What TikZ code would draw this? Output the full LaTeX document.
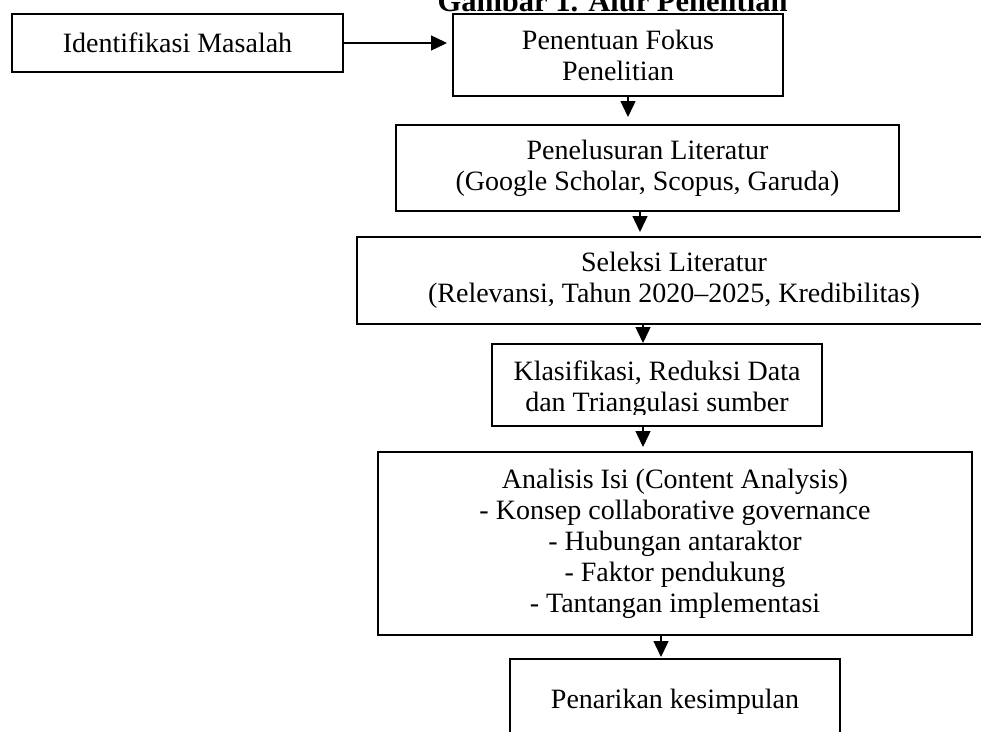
\documentclass[tikz,border=0pt]{standalone}
\usepackage{fontspec}
\setmainfont{Liberation Serif}
\usetikzlibrary{arrows.meta}
\begin{document}
\begin{tikzpicture}[x=1pt,y=-1pt,
  box/.style={draw=black, line width=2.2pt, inner sep=0pt, outer sep=0pt, align=center,
    font=\fontsize{28}{31}\selectfont},
  arr/.style={line width=1.4pt, -{Triangle[length=16pt,width=15pt]}},
  ttl/.style={font=\fontsize{30.5}{31}\selectfont\bfseries, anchor=base, inner sep=0pt}
]
\useasboundingbox[fill=white] (0,0) rectangle (981,731);
\node[ttl] (title) at (612.5,11) {Gambar 1. Alur Penelitian};
\node[box, minimum width=331pt, minimum height=58pt] (im) at (177.5,43) {Identifikasi Masalah};
\node[box, minimum width=330pt, minimum height=82pt] (pf) at (618,55) {Penentuan Fokus\\Penelitian};
\node[box, minimum width=503pt, minimum height=86pt] (pl) at (647.5,168) {Penelusuran Literatur\\(Google Scholar, Scopus, Garuda)};
\node[box, minimum width=634pt, minimum height=87pt] (sl) at (674,280.5) {Seleksi Literatur\\(Relevansi, Tahun 2020--2025, Kredibilitas)};
\node[box, minimum width=330pt, minimum height=82pt] (kl) at (657,385) {};
\begin{scope}
  \clip ([xshift=2pt,yshift=2pt]kl.north west) rectangle ([xshift=-2pt,yshift=12pt]kl.south east);
  \node[box, draw=none] (klt) at (657,389) {Klasifikasi, Reduksi Data\\dan Triangulasi sumber};
\end{scope}
\node[box, minimum width=594pt, minimum height=183pt] (an) at (675,543.5) {Analisis Isi (Content Analysis)\\- Konsep collaborative governance\\- Hubungan antaraktor\\- Faktor pendukung\\- Tantangan implementasi};
\node[box, minimum width=330pt, minimum height=86pt] (pk) at (675,702) {Penarikan kesimpulan};
\draw[arr, shorten >=6pt] (im.east) -- (im.east -| pf.west);
\draw[arr, shorten >=8pt] ([xshift=10pt]pf.south) -- ([xshift=-19.5pt]pl.north);
\draw[arr, shorten >=5pt] ([xshift=-7.5pt]pl.south) -- ([xshift=-34pt]sl.north);
\draw[arr, shorten >=1pt] ([xshift=-31pt]sl.south) -- ([xshift=-14pt]kl.north);
\draw[arr, shorten >=5pt] ([xshift=-14pt]kl.south) -- ([xshift=-32pt]an.north);
\draw[arr, shorten >=2pt] ([xshift=-14pt]an.south) -- ([xshift=-14pt]pk.north);
\end{tikzpicture}
\end{document}
